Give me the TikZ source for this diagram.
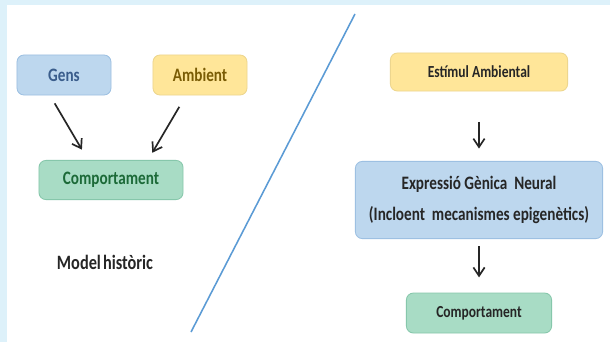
\documentclass[tikz,border=0pt]{standalone}
\usepackage{fontspec}
\setmainfont{Carlito}[FakeStretch=0.8]
\usepackage{tikz}
\usetikzlibrary{calc}
\usetikzlibrary{arrows.meta}
\usetikzlibrary{positioning}

\definecolor{framebg}{HTML}{DDF1FA}
\definecolor{genfill}{HTML}{BDD7EE}
\definecolor{genline}{HTML}{9DC0E2}
\definecolor{gentext}{HTML}{3A5D8C}
\definecolor{ambfill}{HTML}{FFE699}
\definecolor{ambline}{HTML}{EDD68E}
\definecolor{ambtext}{HTML}{7A5C05}
\definecolor{compfill}{HTML}{A8DCC5}
\definecolor{compline}{HTML}{86C7AB}
\definecolor{comptext}{HTML}{1C6A38}
\definecolor{darktext}{HTML}{262626}
\definecolor{divline}{HTML}{5B9BD5}

\tikzset{
  box/.style={draw, rounded corners=5pt, line width=0.6pt, align=center, inner sep=0pt},
  bluebox/.style={box, fill=genfill, draw=genline},
  yellowbox/.style={box, fill=ambfill, draw=ambline},
  greenbox/.style={box, fill=compfill, draw=compline},
  arr/.style={-{Straight Barb[length=6pt,width=8pt]}, line width=1.2pt, black!85}
}

\begin{document}
\begin{tikzpicture}[x=0.025cm,y=-0.025cm]
  \useasboundingbox (0,0) rectangle (610,342);
  \fill[framebg] (0,0) rectangle (610,342);
  \fill[white] (7,5) rectangle (610,342);
  % left half
  \begin{scope}
    \node[bluebox, text=gentext, minimum width=2.35cm, minimum height=1cm,
      font=\fontsize{13.5}{15}\selectfont\bfseries] (gens) at (64,75) {Gens};
    \node[yellowbox, text=ambtext, minimum width=2.35cm, minimum height=1cm,
      font=\fontsize{13.5}{15}\selectfont\bfseries] (ambient) at (200,75) {Ambient};
    \node[greenbox, text=comptext, minimum width=3.6cm, minimum height=0.98cm,
      font=\fontsize{13.5}{15}\selectfont\bfseries] (compL) at (111,180) {Comportament};
    \node[text=darktext, font=\fontsize{14.5}{16}\selectfont\bfseries] (model) at (105,262)
      {Model\hspace{0.1em}històric};
    \draw[arr, shorten <=0.23cm, shorten >=0.3cm]
      ([xshift=-14*0.025cm]gens.south) -- ([xshift=-23*0.025cm]compL.north);
    \draw[arr, shorten <=0.33cm, shorten >=0.21cm]
      ([xshift=-14*0.025cm]ambient.south) -- ([xshift=37*0.025cm]compL.north);
  \end{scope}
  \draw[divline, line width=1.1pt] (191,332) -- (355,14);
  % right half
  \begin{scope}
    \node[yellowbox, text=darktext, minimum width=4.43cm, minimum height=0.95cm,
      font=\fontsize{12}{14}\selectfont\bfseries] (stimulus) at (479,72) {Estímul Ambiental};
    \node[bluebox, text=darktext, minimum width=6.18cm, minimum height=1.93cm,
      font=\fontsize{13.5}{22.5}\selectfont\bfseries] (expression) at (479,200)
      {Expressió Gènica\ \ Neural\\(Incloent\ \ mecanismes epigenètics)};
    \node[greenbox, text=darktext, minimum width=3.63cm, minimum height=1cm,
      font=\fontsize{12}{14}\selectfont\bfseries] (compR) at (479,313) {Comportament};
    \draw[arr, shorten <=0.76cm, shorten >=0.31cm] (stimulus.south) -- (expression.north);
    \draw[arr, shorten <=0.18cm, shorten >=0.38cm] (expression.south) -- (compR.north);
  \end{scope}
\end{tikzpicture}
\end{document}
